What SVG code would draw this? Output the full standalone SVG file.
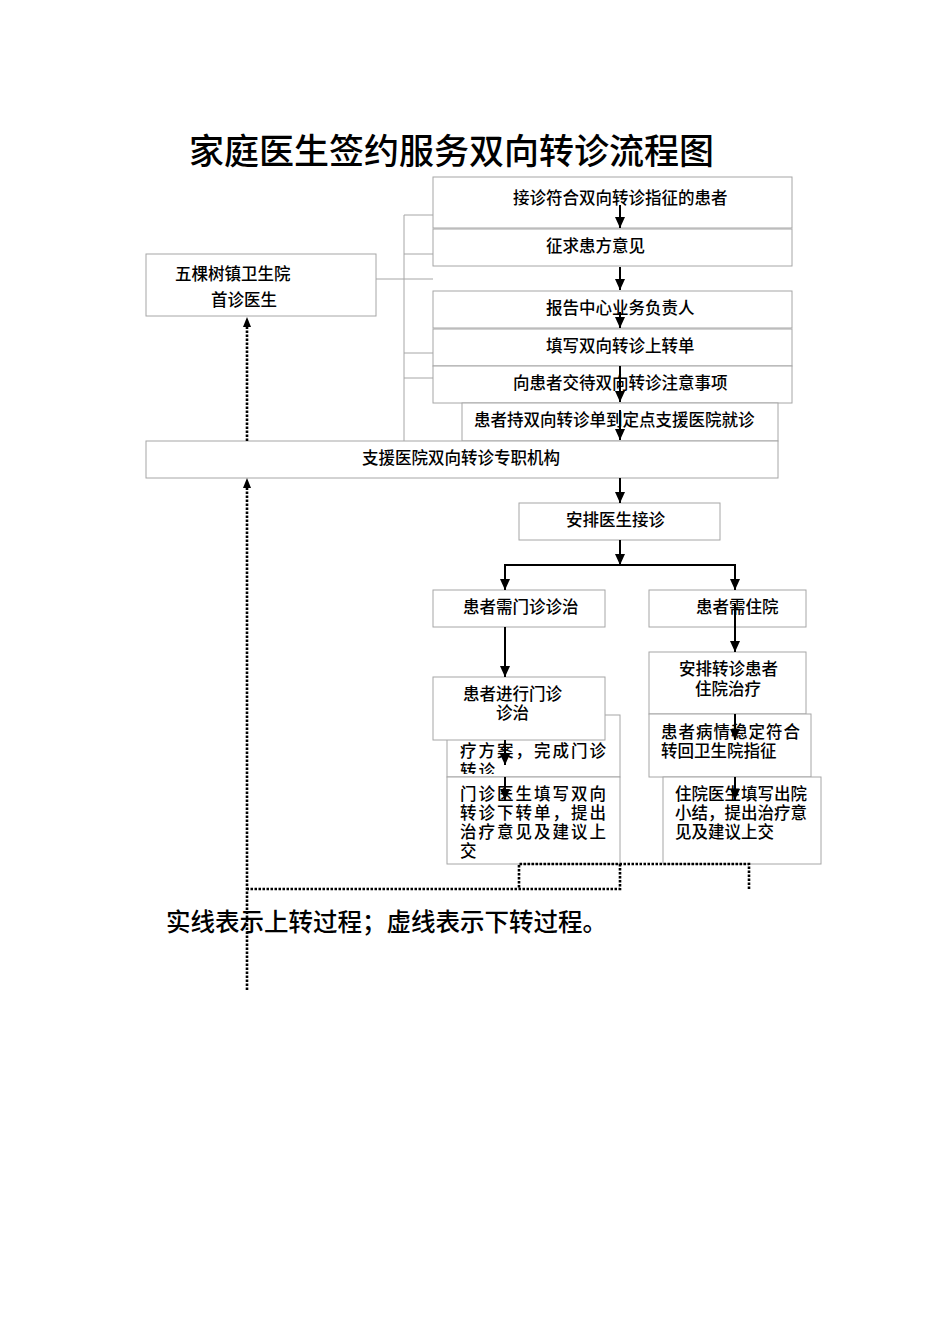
<svg xmlns="http://www.w3.org/2000/svg" width="950" height="1344" viewBox="0 0 950 1344">
<style>
.bx{fill:#fff;stroke:#a6a6a6;stroke-width:1}
.t{font-family:"Noto Sans CJK SC",sans-serif;font-size:16.5px;font-weight:500;fill:#000}
.g{stroke:#a6a6a6;stroke-width:1;fill:none}
.a{stroke:#000;stroke-width:2;fill:none}
.d{stroke:#000;stroke-width:2.6;fill:none;stroke-dasharray:2.5 1.5}
</style>
<defs>
<marker id="ah" markerUnits="userSpaceOnUse" markerWidth="11" markerHeight="10" refX="11" refY="5" orient="auto" viewBox="0 0 11 10">
<path d="M0,0 L11,5 L0,10 Z" fill="#000"/>
</marker>
<clipPath id="hc"><rect x="447" y="715" width="173" height="59"/></clipPath>
</defs>
<rect width="950" height="1344" fill="#fff"/>
<text x="189" y="164" font-family="'Noto Sans CJK SC',sans-serif" font-size="35" font-weight="500" fill="#000">家庭医生签约服务双向转诊流程图</text>

<g id="grey-connectors">
<path class="g" d="M404,215 V441 M404,215 H433 M404,254 H433 M376,279 H433 M404,353 H433 M404,378 H433"/>
</g>

<g id="n1"><rect class="bx" x="433" y="177" width="359" height="51"/><text class="t" x="513" y="204">接诊符合双向转诊指征的患者</text></g>
<g id="n2"><rect class="bx" x="433" y="229" width="359" height="37"/><text class="t" x="546" y="252">征求患方意见</text></g>
<g id="n0"><rect class="bx" x="146" y="254" width="230" height="62"/><text class="t" x="175" y="280">五棵树镇卫生院</text><text class="t" x="211" y="306">首诊医生</text></g>
<g id="n3"><rect class="bx" x="433" y="291" width="359" height="37"/><text class="t" x="546" y="314">报告中心业务负责人</text></g>
<g id="n4"><rect class="bx" x="433" y="329" width="359" height="37"/><text class="t" x="546" y="352">填写双向转诊上转单</text></g>
<g id="n5"><rect class="bx" x="433" y="366" width="359" height="37"/><text class="t" x="513" y="389">向患者交待双向转诊注意事项</text></g>
<g id="n6"><rect class="bx" x="462" y="403" width="316" height="38"/><text class="t" x="474" y="426">患者持双向转诊单到定点支援医院就诊</text></g>
<g id="n7"><rect class="bx" x="146" y="441" width="632" height="37"/><text class="t" x="362" y="464">支援医院双向转诊专职机构</text></g>
<g id="n8"><rect class="bx" x="519" y="503" width="201" height="37"/><text class="t" x="566" y="526">安排医生接诊</text></g>
<g id="n9"><rect class="bx" x="433" y="590" width="172" height="37"/><text class="t" x="463" y="613">患者需门诊诊治</text></g>
<g id="n10"><rect class="bx" x="649" y="590" width="157" height="37"/><text class="t" x="696" y="613">患者需住院</text></g>
<g id="n11"><rect class="bx" x="649" y="652" width="157" height="62"/><text class="t" x="679" y="675">安排转诊患者</text><text class="t" x="695" y="695">住院治疗</text></g>
<g id="n13"><rect class="bx" x="447" y="715" width="173" height="62"/><g clip-path="url(#hc)"><text class="t" x="460" y="757" letter-spacing="2">疗方案，完成门诊</text><text class="t" x="460" y="777" letter-spacing="2">转诊</text></g></g>
<g id="n12"><rect class="bx" x="433" y="677" width="172" height="63"/><text class="t" x="463" y="700">患者进行门诊</text><text class="t" x="496" y="719">诊治</text></g>
<g id="n14"><rect class="bx" x="649" y="714" width="162" height="63"/><text class="t" x="661" y="738" letter-spacing="1">患者病情稳定符合</text><text class="t" x="661" y="757">转回卫生院指征</text></g>
<g id="n15"><rect class="bx" x="447" y="777" width="173" height="87"/><text class="t" x="460" y="800" letter-spacing="2">门诊医生填写双向</text><text class="t" x="460" y="819" letter-spacing="2">转诊下转单，提出</text><text class="t" x="460" y="838" letter-spacing="2">治疗意见及建议上</text><text class="t" x="460" y="857">交</text></g>
<g id="n16"><rect class="bx" x="663" y="777" width="158" height="87"/><text class="t" x="675" y="800">住院医生填写出院</text><text class="t" x="675" y="819">小结，提出治疗意</text><text class="t" x="675" y="838">见及建议上交</text></g>

<g id="connectors">
<path class="a" d="M620,205 V228" marker-end="url(#ah)"/>
<path class="a" d="M620,267 V290" marker-end="url(#ah)"/>
<path class="a" d="M620,312 V328" marker-end="url(#ah)"/>
<path class="a" d="M620,366 V402" marker-end="url(#ah)"/>
<path class="a" d="M620,410 V440" marker-end="url(#ah)"/>
<path class="a" d="M620,478 V503" marker-end="url(#ah)"/>
<path class="a" d="M620,540 V565" marker-end="url(#ah)"/>
<path class="a" d="M505,589 V565 H735 V589"/>
<path class="a" d="M505,575 V590" marker-end="url(#ah)"/>
<path class="a" d="M735,575 V590" marker-end="url(#ah)"/>
<path class="a" d="M505,627 V677" marker-end="url(#ah)"/>
<path class="a" d="M735,604 V652" marker-end="url(#ah)"/>
<path class="a" d="M735,714 V740" marker-end="url(#ah)"/>
<path class="a" d="M735,777 V800" marker-end="url(#ah)"/>
<path class="a" d="M505,740 V765" marker-end="url(#ah)"/>
<path class="a" d="M505,777 V800" marker-end="url(#ah)"/>
<path class="d" d="M749,889 V864 H519 V889 M620,864 V889 H247"/>
<path class="d" d="M247,990 V488"/>
<path class="d" d="M247,441 V327"/>
<path d="M247,478 L251,488 L243,488 Z" fill="#000"/>
<path d="M247,317 L251,327 L243,327 Z" fill="#000"/>
</g>
<text x="166" y="931" font-family="'Noto Sans CJK SC',sans-serif" font-size="24.5" font-weight="500" fill="#000">实线表示上转过程；虚线表示下转过程。</text>
</svg>
